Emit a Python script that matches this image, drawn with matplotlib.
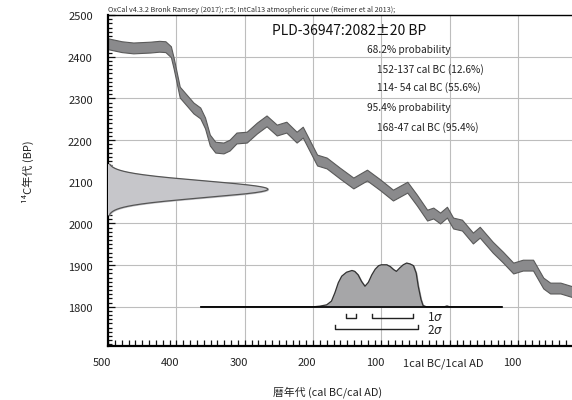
import numpy as np
import matplotlib
matplotlib.use("Agg")
import matplotlib.pyplot as plt
from matplotlib.ticker import MultipleLocator
import matplotlib.transforms as mtransforms

plt.rcParams['font.family'] = ['Noto Sans CJK JP', 'DejaVu Sans']

# --- measurement ---
LAB_CODE = "PLD-36947"
C14_AGE = 2082
C14_ERR = 20

# --- IntCal13 curve (cal year, BC negative) and 14C age BP ---
curve_x = [-500, -480, -463, -438, -425, -416, -408, -404, -395, -385,
           -375, -365, -358, -351, -343, -331, -322, -312, -297, -282,
           -268, -253, -239, -224, -215, -194, -180, -161, -141, -121,
           -102, -83, -62, -48, -33, -24, -14, -4, 5, 18,
           34, 44, 63, 78, 93, 107, 122, 137, 147, 162, 180]
curve_bp = [2431, 2424, 2421, 2423, 2425, 2424, 2412, 2385, 2315, 2296,
            2277, 2265, 2241, 2200, 2183, 2181, 2188, 2205, 2207, 2229,
            2246, 2224, 2231, 2207, 2219, 2152, 2145, 2121, 2097, 2116,
            2093, 2068, 2087, 2056, 2020, 2025, 2013, 2027, 2001, 1996,
            1965, 1979, 1943, 1919, 1893, 1900, 1900, 1857, 1845, 1845, 1836]
curve_err = 13

# --- calibrated probability (relative) ---
dist_x = [-364, -250, -200, -190, -180, -173, -168, -163, -158, -151,
          -143, -139, -134, -129, -124, -119, -114, -109, -104, -100,
          -92, -87, -82, -78, -73, -68, -63, -58, -53, -49,
          -46, -42, -39, -34, -8, -4, 0, 76]
dist_p = [0, 0, 0, 0.015, 0.045, 0.13, 0.32, 0.55, 0.70, 0.79,
          0.83, 0.81, 0.73, 0.58, 0.47, 0.56, 0.73, 0.86, 0.94, 0.96,
          0.96, 0.92, 0.85, 0.81, 0.89, 0.96, 1.0, 0.98, 0.94, 0.77,
          0.47, 0.17, 0.03, 0, 0, 0.02, 0, 0]

# --- ranges (cal BC) ---
range_1s = [(152, 137), (114, 54)]
range_1s_pct = [12.6, 55.6]
range_2s = [(168, 47)]
range_2s_pct = [95.4]

xtick_pos = [-500, -400, -300, -200, -100, 0, 100]
xtick_lab = ["500", "400", "300", "200", "100", "1cal BC/1cal AD", "100"]
ytick_pos = [1800, 1900, 2000, 2100, 2200, 2300, 2400, 2500]

DIST_BASE = 1800
DIST_HEIGHT = 105
GAUSS_WIDTH = 234

fig = plt.figure(figsize=(5.72, 4.0), dpi=100)
ax = fig.add_axes([108 / 572, 54 / 400, 1 - 108 / 572, (346 - 15) / 400])
ax.set_xlim(-500, 179)
ax.set_ylim(1706, 2500)

# grid
for xv in xtick_pos[1:]:
    ax.axvline(xv, color="#bdbdbd", lw=0.8, zorder=0)
for yv in ytick_pos:
    ax.axhline(yv, color="#bdbdbd", lw=0.8, zorder=0)

# calibration curve band
cx = np.array(curve_x)
cb = np.array(curve_bp)
ax.fill_between(cx, cb - curve_err, cb + curve_err, color="#8a8a8c",
                edgecolor="#5a5a5a", lw=0.8, zorder=2)

# radiocarbon determination on the y axis
gy = np.linspace(C14_AGE - 3 * C14_ERR, C14_AGE + 3 * C14_ERR, 200)
gx = -500 + GAUSS_WIDTH * np.exp(-0.5 * ((gy - C14_AGE) / C14_ERR) ** 2)
ax.fill_betweenx(gy, -500, gx, color="#c6c6ca", zorder=3)
ax.plot(gx, gy, color="#555555", lw=0.9, zorder=3)

# calibrated distribution on the x axis
dx = np.array(dist_x)
dy = DIST_BASE + DIST_HEIGHT * np.array(dist_p)
ax.fill_between(dx, DIST_BASE, dy, color="#a6a6a8", zorder=3)
ax.plot(dx, dy, color="#333333", lw=0.9, zorder=4)
ax.plot([dist_x[0], dist_x[-1]], [DIST_BASE, DIST_BASE], color="black",
        lw=1.2, zorder=4)


def bracket(lo, hi, y, h):
    ax.plot([-lo, -lo, -hi, -hi], [y + h, y, y, y + h], color="#222222",
            lw=1.0, zorder=4)


for lo, hi in range_1s:
    bracket(lo, hi, 1772, 10)
for lo, hi in range_2s:
    bracket(lo, hi, 1746, 10)
ax.text(-33, 1775, "1$\\sigma$", fontsize=8.5, va="center", ha="left", color="#222222")
ax.text(-33, 1744, "2$\\sigma$", fontsize=8.5, va="center", ha="left", color="#222222")

# text block
ax.text(-260, 2462, f"{LAB_CODE}:{C14_AGE}±{C14_ERR} BP", fontsize=10,
        va="center", ha="left", color="#111111")
info = [(-121, 2416, "68.2% probability"),
        (-106, 2368, f"{range_1s[0][0]}-{range_1s[0][1]} cal BC ({range_1s_pct[0]}%)"),
        (-106, 2325, f"{range_1s[1][0]}- {range_1s[1][1]} cal BC ({range_1s_pct[1]}%)"),
        (-121, 2277, "95.4% probability"),
        (-106, 2229, f"{range_2s[0][0]}-{range_2s[0][1]} cal BC ({range_2s_pct[0]}%)")]
for tx, ty, s in info:
    ax.text(tx, ty, s, fontsize=7.3, va="center", ha="left", color="#222222")

fig.text(108 / 572, 1 - 10.5 / 400,
         "OxCal v4.3.2 Bronk Ramsey (2017); r:5; IntCal13 atmospheric curve (Reimer et al 2013);",
         fontsize=5.2, va="center", ha="left", color="#333333")

# axes styling
ax.spines["right"].set_visible(False)
ax.spines["left"].set_linewidth(1.6)
ax.spines["bottom"].set_linewidth(1.6)
ax.spines["top"].set_linewidth(1.0)

ax.set_xticks(xtick_pos)
ax.set_xticklabels(xtick_lab)
ax.set_yticks(ytick_pos)
ax.xaxis.set_minor_locator(MultipleLocator(10))
ax.yaxis.set_minor_locator(MultipleLocator(10))
ax.tick_params(axis="both", which="both", direction="in", color="#111111",
               labelsize=8, labelcolor="#222222")
ax.tick_params(axis="x", which="major", length=4, width=0.9, pad=9)
ax.tick_params(axis="x", which="minor", length=4, width=0.9)
ax.tick_params(axis="y", which="major", length=5, width=0.9, pad=11)
ax.tick_params(axis="y", which="minor", length=3, width=0.9)
ax.tick_params(top=False, right=False, which="both")

shift_x = mtransforms.ScaledTranslation(-6 / 100, 0, fig.dpi_scale_trans)
for lab in ax.get_xticklabels():
    lab.set_transform(lab.get_transform() + shift_x)
shift_y = mtransforms.ScaledTranslation(0, -1.5 / 100, fig.dpi_scale_trans)
for lab in ax.get_yticklabels():
    lab.set_transform(lab.get_transform() + shift_y)

fig.text(28 / 572, 1 - 172 / 400, "¹⁴C年代 (BP)", rotation=90, fontsize=8,
         va="center", ha="center", color="#222222")
fig.text(328 / 572, 1 - 392 / 400, "暦年代 (cal BC/cal AD)", fontsize=7.8,
         va="center", ha="center", color="#222222")

fig.savefig("out.png", dpi=100)
